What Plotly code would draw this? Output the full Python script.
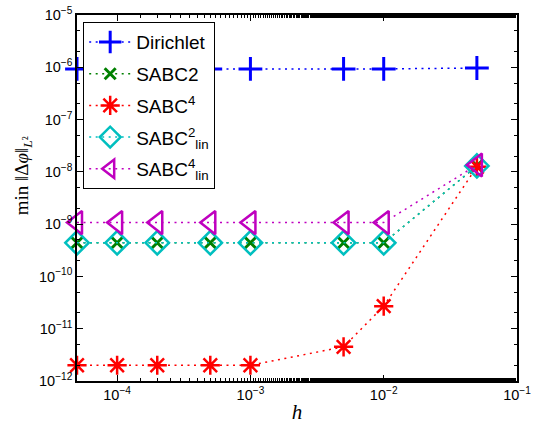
import plotly.graph_objects as go

h = [5e-5, 1e-4, 2e-4, 5e-4, 1e-3, 5e-3, 1e-2, 5e-2]
dirichlet = [9.3e-7, 9.3e-7, 9.3e-7, 9.3e-7, 9.3e-7, 9.3e-7, 9.3e-7, 9.7e-7]
sabc2 = [4.4e-10, 4.4e-10, 4.4e-10, 4.4e-10, 4.4e-10, 4.4e-10, 4.4e-10, 1.3e-8]
sabc4 = [2.0e-12, 2.0e-12, 2.0e-12, 2.0e-12, 2.0e-12, 4.5e-12, 2.7e-11, 1.25e-8]
sabc2_lin = [4.4e-10, 4.4e-10, 4.4e-10, 4.4e-10, 4.4e-10, 4.4e-10, 4.4e-10, 1.3e-8]
sabc4_lin = [1.07e-9, 1.07e-9, 1.07e-9, 1.07e-9, 1.07e-9, 1.07e-9, 1.07e-9, 1.35e-8]

names = ["Dirichlet", "SABC2", "SABC<sup>4</sup>", "SABC<sup>2</sup><sub>lin</sub>", "SABC<sup>4</sup><sub>lin</sub>"]
series = [dirichlet, sabc2, sabc4, sabc2_lin, sabc4_lin]
colors = ["#0000FF", "#008000", "#FF0000", "#00BFBF", "#BF00BF"]
symbols = ["cross-thin-open", "x-thin-open", "asterisk-open", "diamond-open", "triangle-left-open"]
sizes = [17, 11, 16, 18, 20]
mwidths = [3, 3, 2.5, 2.5, 2.5]

xtickvals = [1e-4, 1e-3, 1e-2, 1e-1]
xticktext = ["10<sup>−4</sup>", "10<sup>−3</sup>", "10<sup>−2</sup>", "10<sup>−1</sup>"]
ytickvals = [1e-12, 1e-11, 1e-10, 1e-9, 1e-8, 1e-7, 1e-6, 1e-5]
yticktext = ["10<sup>−12</sup>", "10<sup>−11</sup>", "10<sup>−10</sup>", "10<sup>−9</sup>",
             "10<sup>−8</sup>", "10<sup>−7</sup>", "10<sup>−6</sup>", "10<sup>−5</sup>"]

fig = go.Figure()
for i, (name, ys, c, s, sz, mw) in enumerate(zip(names, series, colors, symbols, sizes, mwidths)):
    fig.add_trace(go.Scatter(
        x=h, y=ys, name=name, mode="lines+markers", legendgroup=f"g{i}",
        line=dict(color=c, width=1.5, dash="2px,4.5px"),
        marker=dict(symbol=s, size=sz, color=c, line=dict(color=c, width=mw)),
        cliponaxis=False,
    ))

axis_common = dict(
    type="log", showgrid=False, zeroline=False, showline=True, linecolor="black",
    linewidth=1.5, mirror="allticks", ticks="inside", ticklen=6, tickcolor="black",
    automargin=False, ticklabeloverflow="allow",
    tickfont=dict(family="Liberation Sans, Arial", size=14.5, color="black"),
    minor=dict(ticks="inside", ticklen=3, tickcolor="black", showgrid=False),
)

fig.update_layout(
    width=536, height=437,
    margin=dict(l=77, r=19, t=15, b=56),
    paper_bgcolor="white", plot_bgcolor="white",
    font=dict(family="Liberation Sans, Arial", color="black"),
    xaxis=dict(axis_common, range=[-4.30103, -1], tickvals=xtickvals, ticktext=xticktext,
               title=dict(text="<i>h</i>", font=dict(family="Liberation Serif, serif", size=21), standoff=2)),
    yaxis=dict(axis_common, range=[-12, -5], tickvals=ytickvals, ticktext=yticktext),
    legend=dict(x=0.0136, y=0.981, xanchor="left", yanchor="top", bgcolor="white",
                bordercolor="black", borderwidth=1.2, itemwidth=42,
                font=dict(family="Liberation Sans, Arial", size=19, color="black"),
                tracegroupgap=4),
    showlegend=True,
    annotations=[dict(
        text="min ‖Δ<i>φ</i>‖<sub><i>L</i>²</sub>", textangle=-90,
        xref="paper", yref="paper", x=-0.122, y=0.56, xanchor="center", yanchor="middle",
        showarrow=False, font=dict(family="Liberation Serif, serif", size=19, color="black"),
    )],
)

fig.write_html("out.html", config={"displayModeBar": False},
               post_script="document.body.style.margin='0';")
